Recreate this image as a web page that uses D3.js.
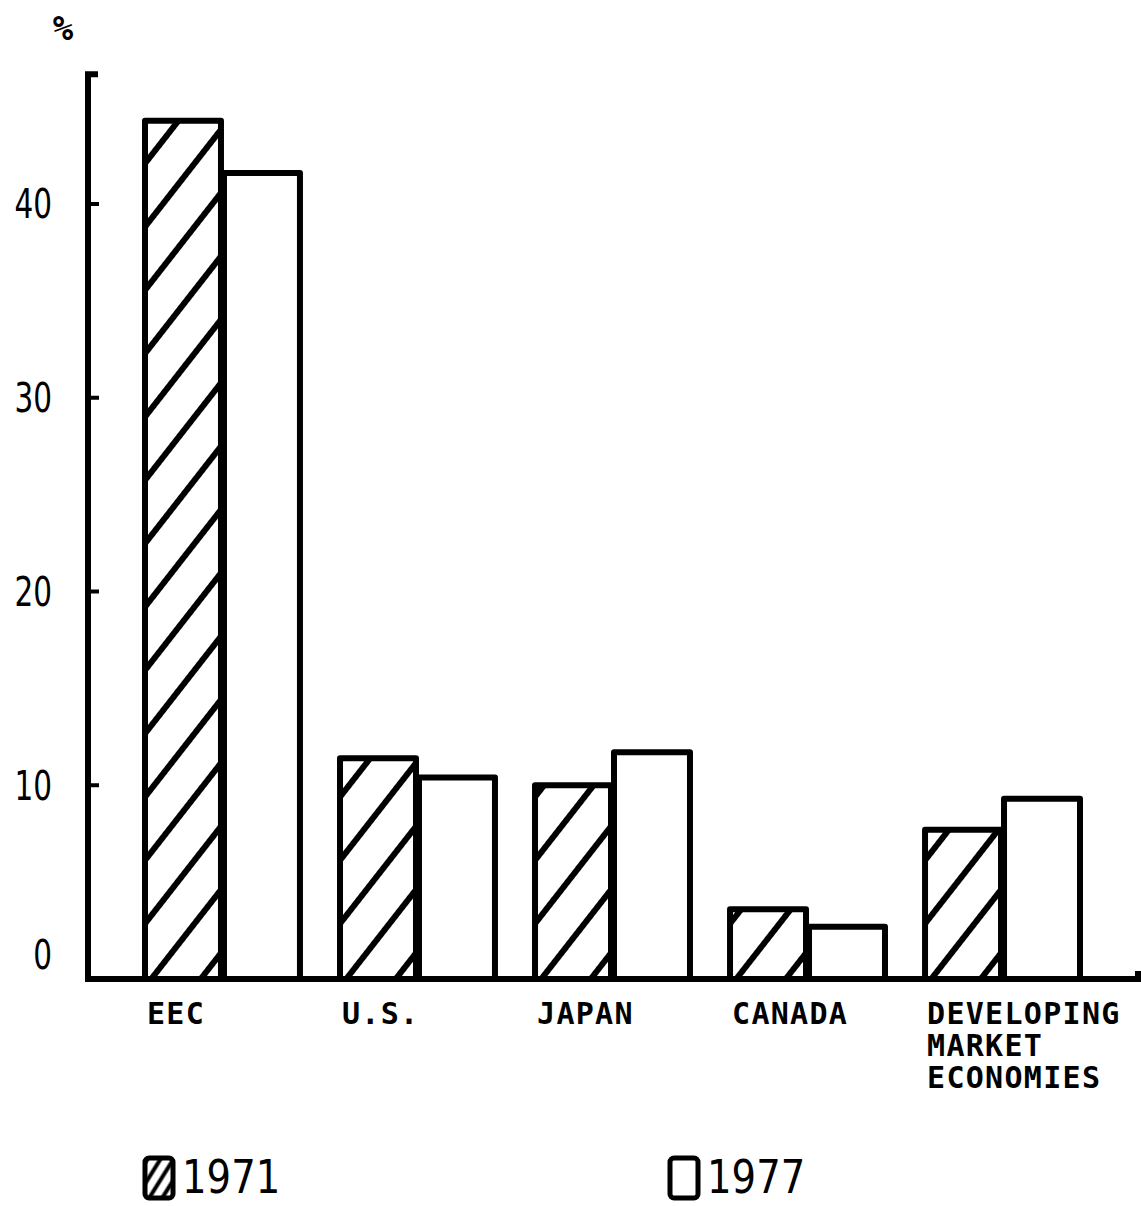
<!DOCTYPE html>
<html>
<head>
<meta charset="utf-8">
<script src="https://cdn.jsdelivr.net/npm/d3@7"></script>
<style>
  html, body { margin: 0; padding: 0; background: #fff; }
  svg { display: block; }
</style>
</head>
<body>
<div id="chart"></div>
<script>
// Chart values
const categories = ["EEC", "U.S.", "JAPAN", "CANADA", "DEVELOPING\nMARKET\nECONOMIES"];
const years = ["1971", "1977"];
const values1971 = [44.3, 11.4, 10.0, 3.6, 7.7];
const values1977 = [41.6, 10.4, 11.7, 2.7, 9.3];
const yTicks = [0, 10, 20, 30, 40];

const W = 1141, H = 1206;
const ink = "#000";
// no narrow font is installed, so squeeze DejaVu Sans horizontally
const narrowFont = "'DejaVu Sans', sans-serif";

const svg = d3.select("#chart").append("svg").attr("width", W).attr("height", H);

const defs = svg.append("defs");
// "/" hatching for the 1971 bars
defs.append("pattern").attr("id", "hatch").attr("patternUnits", "userSpaceOnUse")
    .attr("width", 40).attr("height", 39).attr("patternTransform", "rotate(-52) translate(0,6)")
    .append("line").attr("x1", -5).attr("x2", 45).attr("y1", 19).attr("y2", 19)
    .attr("stroke", ink).attr("stroke-width", 6);
defs.append("pattern").attr("id", "hatchSmall").attr("patternUnits", "userSpaceOnUse")
    .attr("width", 12).attr("height", 11).attr("patternTransform", "rotate(-58)")
    .append("line").attr("x1", -2).attr("x2", 14).attr("y1", 5.5).attr("y2", 5.5)
    .attr("stroke", ink).attr("stroke-width", 4);

const data = categories.map((c, i) => ({ cat: c, vals: [
    { year: "1971", v: values1971[i] }, { year: "1977", v: values1977[i] }] }));

const x0 = d3.scaleBand().domain(categories).range([142, 1080]).paddingInner(0.19).paddingOuter(0);
const x1 = d3.scaleBand().domain(years).range([0, x0.bandwidth()]);
const y = d3.scaleLinear().domain([0, 40]).range([979, 204]);

// bars
const groups = svg.append("g").selectAll("g").data(data).enter().append("g")
    .attr("transform", d => `translate(${x0(d.cat)},0)`);
groups.selectAll("rect").data(d => d.vals).enter().append("rect")
    .attr("x", d => x1(d.year) + 3)
    .attr("y", d => y(d.v))
    .attr("width", x1.bandwidth() - 3)
    .attr("height", d => y(0) - y(d.v))
    .attr("fill", d => d.year === "1971" ? "url(#hatch)" : "#fff")
    .attr("stroke", ink).attr("stroke-width", 6).attr("stroke-linejoin", "round");

// y axis
const yAxisTop = y(46.7);
svg.append("path").attr("d", `M98,${yAxisTop} H88 V${y(0)}`)
    .attr("fill", "none").attr("stroke", ink).attr("stroke-width", 6);
svg.append("g").selectAll("line").data(yTicks.filter(t => t > 0)).enter().append("line")
    .attr("x1", 88).attr("x2", 99).attr("y1", d => y(d)).attr("y2", d => y(d))
    .attr("stroke", ink).attr("stroke-width", 4);
svg.append("g").selectAll("text").data(yTicks).enter().append("text")
    .attr("transform", d => `translate(52,${d === 0 ? y(d) - 24 : y(d)}) scale(0.72,1)`)
    .attr("text-anchor", "end").attr("dominant-baseline", "central")
    .attr("font-family", narrowFont)
    .attr("font-size", 41).attr("fill", ink)
    .text(d => d);
svg.append("text").attr("x", 63).attr("y", 40).attr("text-anchor", "middle")
    .attr("font-family", "'DejaVu Sans Mono', monospace").attr("font-weight", "bold")
    .attr("font-size", 34).attr("fill", ink).text("%");

// baseline
svg.append("path").attr("d", `M85,${y(0)} H1138 V${y(0) - 8}`)
    .attr("fill", "none").attr("stroke", ink).attr("stroke-width", 6);

// category labels
const labels = svg.append("g").selectAll("text").data(categories).enter().append("text")
    .attr("x", d => x0(d) + 5).attr("y", 1024)
    .attr("font-family", "'DejaVu Sans Mono', monospace").attr("font-weight", "bold")
    .attr("font-size", 30).attr("letter-spacing", 1.3).attr("fill", ink);
labels.selectAll("tspan").data(d => d.split("\n")).enter().append("tspan")
    .attr("x", function() { return d3.select(this.parentNode).attr("x"); })
    .attr("dy", (d, i) => i === 0 ? 0 : 32)
    .text(d => d);

// legend
const legendX = [143, 668];
const legend = svg.append("g").selectAll("g").data(years).enter().append("g")
    .attr("transform", (d, i) => `translate(${legendX[i]},1156)`);
legend.append("rect").attr("x", 2).attr("y", 2).attr("width", 28).attr("height", 40).attr("rx", 4)
    .attr("fill", d => d === "1971" ? "url(#hatchSmall)" : "#fff")
    .attr("stroke", ink).attr("stroke-width", 5);
legend.append("text").attr("transform", "translate(39,37) scale(0.84,1)")
    .attr("font-family", narrowFont)
    .attr("font-size", 46).attr("fill", ink).text(d => d);
</script>
</body>
</html>
